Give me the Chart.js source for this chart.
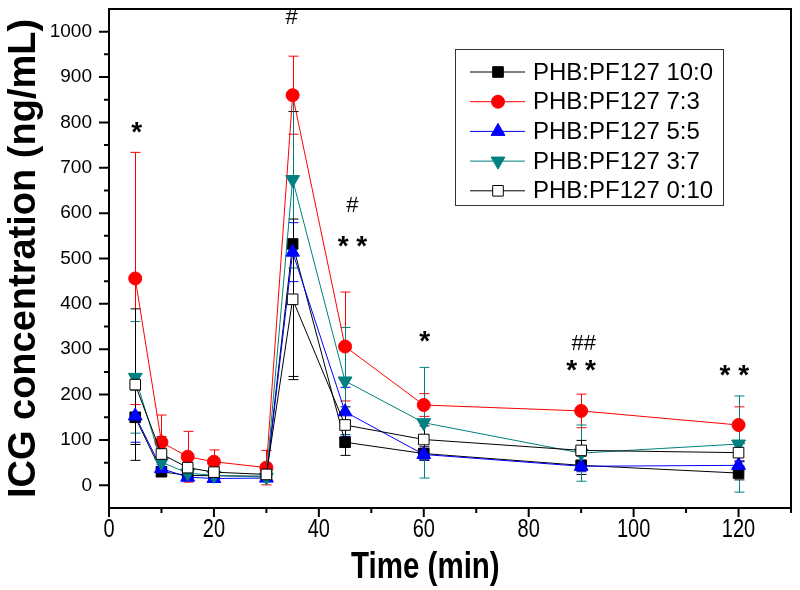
<!DOCTYPE html>
<html>
<head>
<meta charset="utf-8">
<script src="https://cdn.jsdelivr.net/npm/chart.js@4.4.1/dist/chart.umd.min.js"></script>
<style>
  html, body { margin: 0; padding: 0; background: #fff; }
  #wrap { width: 800px; height: 590px; }
</style>
</head>
<body>
<div id="wrap"><canvas id="chart"></canvas></div>
<script>
// sampling times (min)
const times = [5, 10, 15, 20, 30, 35, 45, 60, 90, 120];

const seriesNames = ["PHB:PF127 10:0", "PHB:PF127 7:3", "PHB:PF127 5:5", "PHB:PF127 3:7", "PHB:PF127 0:10"];

// mean ICG concentration (ng/mL)
const conc10_0 = [150, 30, 22, 21, 20, 532, 95, 70, 44, 27];
const conc7_3 = [456, 95, 63, 52, 39, 860, 306, 177, 164, 133];
const conc5_5 = [153, 37, 18, 15, 16, 514, 162, 68, 42, 44];
const conc3_7 = [238, 51, 27, 22, 18, 674, 230, 138, 71, 91];
const conc0_10 = [222, 69, 39, 29, 24, 410, 133, 101, 77, 72];

// error bars (+/-)
const sd10_0 = [60, 10, 8, 8, 10, 292, 29, 15, 20, 15];
const sd7_3 = [278, 60, 56, 26, 38, 86, 120, 25, 37, 40];
const sd5_5 = [58, 10, 8, 6, 6, 65, 54, 12, 12, 10];
const sd3_7 = [123, 15, 10, 8, 8, 195, 118, 122, 62, 106];
const sd0_10 = [167, 38, 20, 12, 10, 177, 40, 30, 22, 20];

const xTicks = [0, 20, 40, 60, 80, 100, 120];
const yTicks = [0, 100, 200, 300, 400, 500, 600, 700, 800, 900, 1000];

// significance marks
const markText = ["*", "#", "#", "* *", "*", "##", "* *", "* *"];
const markX = [5.3, 34.8, 46.4, 46.4, 60.2, 90.5, 90.0, 119.2];
const markY = [781, 1028, 614, 529, 321, 310, 256, 245];

const seriesValues = [conc10_0, conc7_3, conc5_5, conc3_7, conc0_10];
const seriesErrors = [sd10_0, sd7_3, sd5_5, sd3_7, sd0_10];
const lineColors = ["#000000", "#ff0000", "#0000ff", "#008080", "#000000"];
const fillColors = ["#000000", "#ff0000", "#0000ff", "#008080", "#ffffff"];
const pointStyles = ["rect", "circle", "triangle", "triangle", "rect"];
const pointRotations = [0, 0, 0, 180, 0];
const pointRadii = [7.5, 6.5, 8, 8, 7.5];

const sansFont = "'Liberation Sans', Arial, sans-serif";

// narrow text: squeeze a normal face horizontally
function narrowText(ctx, text, x, y, squeeze) {
  ctx.save();
  ctx.translate(x, y);
  ctx.scale(squeeze, 1);
  ctx.fillText(text, 0, 0);
  ctx.restore();
}

const decor = {
  id: "decor",
  beforeDatasetsDraw(chart) {
    const { ctx, scales: { x, y } } = chart;
    chart.data.datasets.forEach((ds) => {
      ctx.save();
      ctx.strokeStyle = ds.borderColor;
      ctx.lineWidth = 1;
      ds.data.forEach((p, j) => {
        const px = Math.round(x.getPixelForValue(p.x)) + 0.5;
        const top = y.getPixelForValue(p.y + ds.errors[j]);
        const bot = y.getPixelForValue(p.y - ds.errors[j]);
        ctx.beginPath();
        ctx.moveTo(px, top);
        ctx.lineTo(px, bot);
        ctx.moveTo(px - 5, top);
        ctx.lineTo(px + 5, top);
        ctx.moveTo(px - 5, bot);
        ctx.lineTo(px + 5, bot);
        ctx.stroke();
      });
      ctx.restore();
    });
  },
  afterDraw(chart) {
    const { ctx, chartArea: a, scales: { x, y } } = chart;
    ctx.save();
    // frame
    ctx.strokeStyle = "#000";
    ctx.lineWidth = 2;
    ctx.strokeRect(a.left, a.top, a.right - a.left, a.bottom - a.top);
    // tick marks
    ctx.beginPath();
    for (let v = 0; v <= 1000; v += 50) {
      const py = y.getPixelForValue(v);
      ctx.moveTo(a.left, py);
      ctx.lineTo(a.left - (v % 100 === 0 ? 10 : 5), py);
    }
    for (let v = 0; v <= 130; v += 10) {
      const px = x.getPixelForValue(v);
      ctx.moveTo(px, a.bottom);
      ctx.lineTo(px, a.bottom + (v % 20 === 0 ? 9 : 5));
    }
    ctx.stroke();

    ctx.fillStyle = "#000";
    ctx.textAlign = "center";
    ctx.textBaseline = "alphabetic";
    // x tick labels
    ctx.font = "25px " + sansFont;
    xTicks.forEach((v) => narrowText(ctx, String(v), x.getPixelForValue(v), a.bottom + 29, 0.8));
    // x title
    ctx.font = "bold 36px " + sansFont;
    narrowText(ctx, "Time (min)", x.getPixelForValue(60.3), 578, 0.82);

    // significance marks
    markText.forEach((t, i) => {
      const px = x.getPixelForValue(markX[i]);
      const py = y.getPixelForValue(markY[i]);
      if (t.includes("*")) {
        ctx.font = "bold 28px " + sansFont;
        ctx.fillText(t, px, py + 10);
      } else {
        ctx.font = "22px " + sansFont;
        ctx.fillText(t, px, py + 5);
      }
    });

    // legend
    ctx.lineWidth = 1;
    ctx.strokeStyle = "#333";
    ctx.strokeRect(455.5, 49.5, 268, 156);
    ctx.textAlign = "left";
    ctx.textBaseline = "middle";
    ctx.font = "24px " + sansFont;
    chart.data.datasets.forEach((ds, i) => {
      const ly = 72 + i * 29.7;
      ctx.strokeStyle = ds.borderColor;
      ctx.beginPath();
      ctx.moveTo(470, ly);
      ctx.lineTo(525, ly);
      ctx.stroke();
      ctx.fillStyle = ds.pointBackgroundColor;
      ctx.strokeStyle = ds.pointBorderColor;
      Chart.helpers.drawPoint(ctx, {
        pointStyle: ds.pointStyle,
        rotation: ds.pointRotation,
        radius: ds.pointRadius,
        borderWidth: 1
      }, 498, ly);
      ctx.fillStyle = "#000";
      ctx.fillText(ds.label, 533, ly + 1);
    });
    ctx.restore();
  }
};

const datasets = seriesNames.map((name, i) => ({
  label: name,
  data: times.map((t, j) => ({ x: t, y: seriesValues[i][j] })),
  errors: seriesErrors[i],
  borderColor: lineColors[i],
  backgroundColor: fillColors[i],
  pointBackgroundColor: fillColors[i],
  pointBorderColor: lineColors[i],
  pointStyle: pointStyles[i],
  pointRotation: pointRotations[i],
  pointRadius: pointRadii[i],
  pointBorderWidth: 1,
  borderWidth: 1,
  tension: 0,
  order: 5 - i
}));

new Chart(document.getElementById("chart"), {
  type: "line",
  data: { datasets },
  options: {
    responsive: true,
    maintainAspectRatio: false,
    animation: false,
    layout: { padding: { top: 5, right: 6, left: 0, bottom: 0 } },
    plugins: { legend: { display: false }, tooltip: { enabled: false } },
    scales: {
      x: {
        type: "linear",
        min: 0,
        max: 130,
        afterBuildTicks: (s) => { s.ticks = xTicks.map((v) => ({ value: v })); },
        afterFit: (s) => { s.height = 82; s.paddingLeft = 0; s.paddingRight = 0; },
        grid: { display: false, drawTicks: false },
        border: { display: false },
        ticks: { display: false }
      },
      y: {
        type: "linear",
        min: -50,
        max: 1050,
        afterBuildTicks: (s) => { s.ticks = yTicks.map((v) => ({ value: v })); },
        afterFit: (s) => { s.width = 109; s.paddingTop = 0; s.paddingBottom = 0; },
        grid: { display: false, drawTicks: false },
        border: { display: false },
        ticks: {
          padding: 17,
          color: "#000",
          font: { family: sansFont, size: 19 },
          callback: (v) => String(v)
        },
        title: {
          display: true,
          text: "ICG concentration (ng/mL)",
          color: "#000",
          font: { family: sansFont, size: 38, weight: "bold" },
          padding: { top: 2, bottom: 0 }
        }
      }
    }
  },
  plugins: [decor]
});
</script>
</body>
</html>
